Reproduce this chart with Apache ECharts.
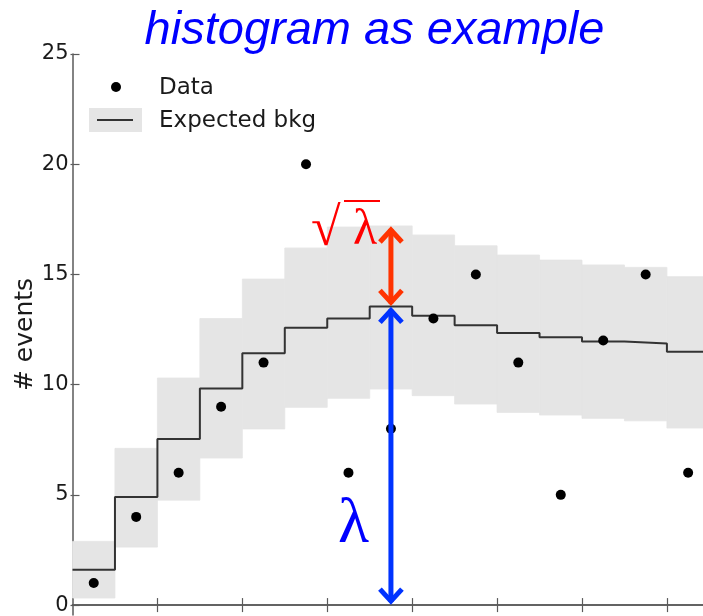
<!DOCTYPE html>
<html>
<head>
<meta charset="utf-8">
<script src="https://cdn.jsdelivr.net/npm/echarts@6/dist/echarts.min.js"></script>
<style>html,body{margin:0;padding:0;background:#fff}#c{width:703px;height:616px}</style>
</head>
<body>
<div id="c"></div>
<script>
// ---- data ----
const binStart = [0, 1, 2, 3, 4, 5, 6, 7, 8, 9, 10, 11, 12, 13, 14];
const expectedBkg = [1.6, 4.9, 7.53, 9.83, 11.43, 12.58, 13.0, 13.55, 13.13, 12.7, 12.34, 12.15, 11.96, 11.87, 11.49];
const bandUpper = [2.89, 7.11, 10.3, 13.0, 14.79, 16.2, 17.15, 17.2, 16.79, 16.3, 15.88, 15.65, 15.43, 15.32, 14.9];
const bandLower = [0.32, 2.63, 4.76, 6.67, 7.99, 8.97, 9.38, 9.8, 9.5, 9.12, 8.74, 8.62, 8.47, 8.36, 8.03];
const dataCounts = [1, 4, 6, 9, 11, 20, 6, 8, 13, 15, 11, 5, 12, 15, 6];
const yTicks = [0, 5, 10, 15, 20, 25];
const xTicks = [2, 4, 6, 8, 10, 12, 14];
const xVisibleMax = 14.85;   // the picture is cut just before the last bin ends
const titleText = 'histogram as example';
const yName = '# events';
const legendNames = ['Data', 'Expected bkg'];

// ---- chart ----
const chart = echarts.init(document.getElementById('c'), null, {renderer: 'canvas'});
const nBins = binStart.length;
const peak = expectedBkg.indexOf(Math.max.apply(null, expectedBkg));
const bandColor = '#e5e5e5';
const axisColor = '#5a5a5a';

const stepData = binStart.map(i => [i, expectedBkg[i]]);
stepData.push([nBins, expectedBkg[nBins - 1]]);

const xBase = {
  type: 'value', min: 0, max: xVisibleMax,
  axisLine: {show: true, lineStyle: {color: axisColor, width: 1.5}},
  axisTick: {show: true, inside: true, length: 7, customValues: xTicks, lineStyle: {color: axisColor, width: 1.2}},
  axisLabel: {show: false}, splitLine: {show: false}
};
const yBase = {
  type: 'value', min: -0.45, max: 25,
  axisTick: {show: true, inside: true, length: 7, customValues: yTicks, lineStyle: {color: axisColor, width: 1.2}},
  splitLine: {show: false}
};

chart.setOption({
  animation: false,
  backgroundColor: '#fff',
  grid: {left: 72.5, top: 54, right: 0, bottom: 1, containLabel: false},
  xAxis: [
    Object.assign({}, xBase, {position: 'bottom'}),
    Object.assign({}, xBase, {position: 'top'})
  ],
  yAxis: [
    Object.assign({}, yBase, {
      position: 'left',
      axisLine: {show: true, lineStyle: {color: axisColor, width: 1.5}},
      axisLabel: {show: true, customValues: yTicks, margin: 4, fontSize: 21, color: '#1a1a1a', fontFamily: 'DejaVu Sans'}
    }),
    Object.assign({}, yBase, {
      position: 'right', axisLine: {show: false}, axisLabel: {show: false},
      axisTick: {show: true, inside: true, length: 2, customValues: yTicks, lineStyle: {color: axisColor, width: 1.2}}
    })
  ],
  series: [
    {
      type: 'custom', name: 'band', xAxisIndex: 0, yAxisIndex: 0, z: 1,
      data: binStart.map(i => [i, bandLower[i], bandUpper[i]]),
      encode: {x: 0, y: [1, 2]},
      renderItem: function (params, api) {
        const p1 = api.coord([api.value(0), api.value(2)]);
        const p2 = api.coord([api.value(0) + 1, api.value(1)]);
        return {
          type: 'rect',
          shape: {x: p1[0], y: p1[1], width: p2[0] - p1[0], height: p2[1] - p1[1]},
          style: {fill: bandColor, stroke: bandColor, lineWidth: 0.8}
        };
      }
    },
    {
      type: 'line', name: legendNames[1], step: 'end', z: 3,
      data: stepData, symbol: 'none',
      lineStyle: {color: '#333', width: 2}
    },
    {
      type: 'scatter', name: legendNames[0], z: 4,
      data: binStart.map(i => [i + 0.5, dataCounts[i]]),
      symbol: 'circle', symbolSize: 10,
      itemStyle: {color: '#000', opacity: 1}
    }
  ]
});

// annotation arrows placed through the chart's own scales
const xp = chart.convertToPixel({xAxisIndex: 0}, peak + 0.5);
const yLam = chart.convertToPixel({yAxisIndex: 0}, expectedBkg[peak]);
const yUp = chart.convertToPixel({yAxisIndex: 0}, bandUpper[peak]);
const yZero = chart.convertToPixel({yAxisIndex: 0}, 0);
const yMid = (chart.convertToPixel({yAxisIndex: 0}, -0.45) + chart.convertToPixel({yAxisIndex: 0}, 25)) / 2;

function arrow(x, yTop, yBot, color) {
  const st = {stroke: color, lineWidth: 5, lineCap: 'butt', lineJoin: 'miter', fill: null};
  return [
    {type: 'line', z: 20, shape: {x1: x, y1: yTop + 3, x2: x, y2: yBot - 3}, style: st},
    {type: 'polyline', z: 20, shape: {points: [[x - 11, yTop + 16], [x, yTop + 4], [x + 11, yTop + 16]]}, style: st},
    {type: 'polyline', z: 20, shape: {points: [[x - 11, yBot - 16], [x, yBot - 4], [x + 11, yBot - 16]]}, style: st}
  ];
}

const graphics = [
  {type: 'text', x: 374.5, y: 31, z: 10,
   style: {text: titleText, textAlign: 'center', textVerticalAlign: 'middle',
           font: 'italic 47px "Liberation Sans", Arial, sans-serif', fill: '#0000ff'}},
  // y axis title
  {type: 'text', x: 25, y: yMid, rotation: Math.PI / 2, z: 10,
   style: {text: yName, textAlign: 'center', textVerticalAlign: 'middle', font: '25px "DejaVu Sans"', fill: '#1a1a1a'}},
  // legend
  {type: 'circle', shape: {cx: 116, cy: 87, r: 5}, style: {fill: '#000'}, z: 10},
  {type: 'text', x: 159, y: 88, z: 10,
   style: {text: legendNames[0], textVerticalAlign: 'middle', font: '23px "DejaVu Sans"', fill: '#1a1a1a'}},
  {type: 'rect', shape: {x: 89, y: 108, width: 53, height: 24}, style: {fill: bandColor}, z: 10},
  {type: 'line', shape: {x1: 97, y1: 120, x2: 133, y2: 120}, style: {stroke: '#333', lineWidth: 2}, z: 11},
  {type: 'text', x: 159, y: 121, z: 10,
   style: {text: legendNames[1], textVerticalAlign: 'middle', font: '23px "DejaVu Sans"', fill: '#1a1a1a'}},
  // sqrt(lambda) annotation
  {type: 'text', x: 311, y: 258, z: 12,
   style: {text: '√', textVerticalAlign: 'bottom', font: '54px "Liberation Serif", serif', fill: '#ff0000'}},
  {type: 'line', shape: {x1: 344, y1: 201, x2: 380, y2: 201}, style: {stroke: '#ff0000', lineWidth: 2}, z: 12},
  {type: 'text', x: 353, y: 256, z: 12,
   style: {text: 'λ', textVerticalAlign: 'bottom', font: '50px "Liberation Serif", serif', fill: '#ff0000'}},
  // lambda annotation
  {type: 'text', x: 338, y: 557, z: 12,
   style: {text: 'λ', textVerticalAlign: 'bottom', font: '64px "Liberation Serif", serif', fill: '#0000ff'}}
].concat(arrow(xp, yUp, yLam, '#ff3300'), arrow(xp, yLam, yZero, '#0033ff'));

chart.setOption({graphic: graphics});
</script>
</body>
</html>
